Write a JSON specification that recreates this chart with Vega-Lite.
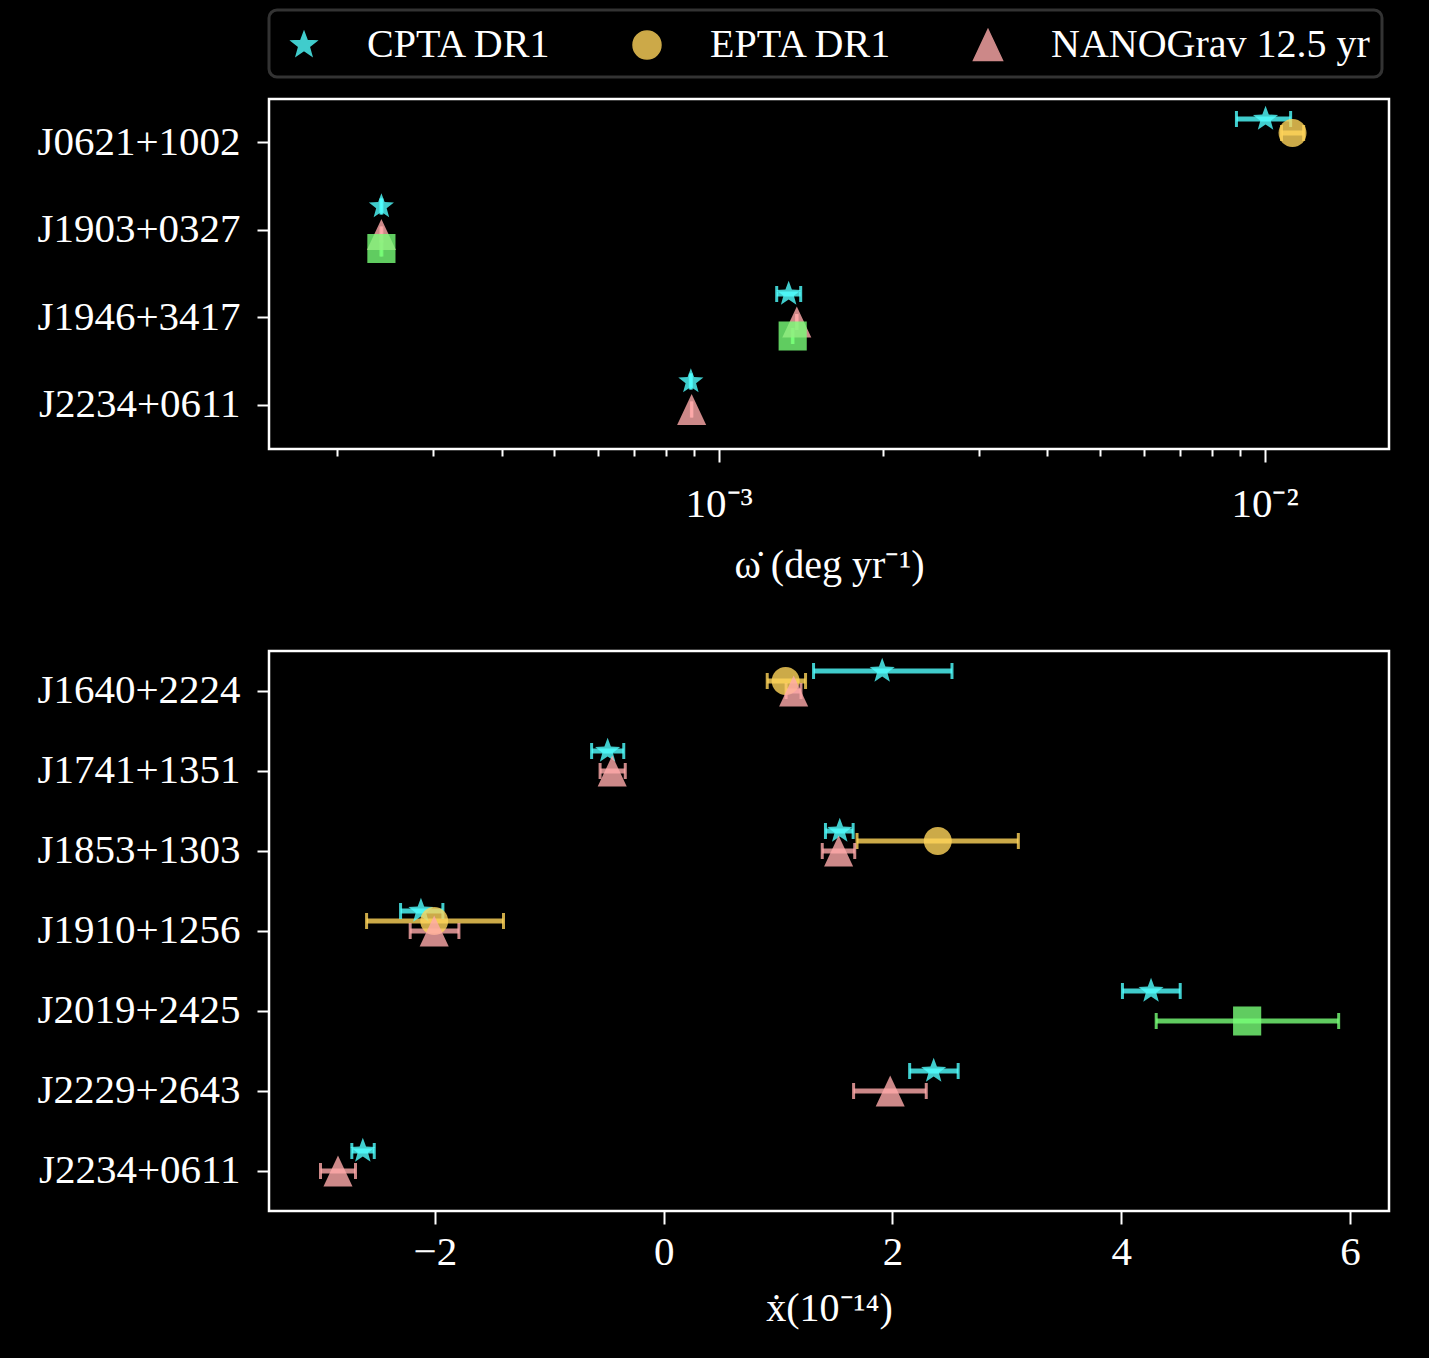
{
  "$schema": "https://vega.github.io/schema/vega-lite/v6.json",
  "background": "black",
  "padding": {"left": 35, "top": 8, "right": 40, "bottom": 28},
  "datasets": {
    "omdot": [
      {"pulsar": "J0621+1002", "dataset": "CPTA DR1", "value": 0.01004, "lo": 0.00888, "hi": 0.01116},
      {"pulsar": "J0621+1002", "dataset": "EPTA DR1", "value": 0.01125, "lo": 0.01074, "hi": 0.01179},
      {"pulsar": "J1903+0327", "dataset": "CPTA DR1", "value": 0.000241, "lo": 0.0002405, "hi": 0.0002415},
      {"pulsar": "J1903+0327", "dataset": "NANOGrav 12.5 yr", "value": 0.000241, "lo": 0.0002405, "hi": 0.0002415},
      {"pulsar": "J1903+0327", "dataset": "PPTA", "value": 0.000241, "lo": 0.0002405, "hi": 0.0002415},
      {"pulsar": "J1946+3417", "dataset": "CPTA DR1", "value": 0.001343, "lo": 0.001277, "hi": 0.001413},
      {"pulsar": "J1946+3417", "dataset": "NANOGrav 12.5 yr", "value": 0.00139, "lo": 0.001388, "hi": 0.001392},
      {"pulsar": "J1946+3417", "dataset": "PPTA", "value": 0.001366, "lo": 0.001364, "hi": 0.001368},
      {"pulsar": "J2234+0611", "dataset": "CPTA DR1", "value": 0.000889, "lo": 0.000887, "hi": 0.000891},
      {"pulsar": "J2234+0611", "dataset": "NANOGrav 12.5 yr", "value": 0.000892, "lo": 0.000891, "hi": 0.000893}
    ],
    "xdot": [
      {"pulsar": "J1640+2224", "dataset": "CPTA DR1", "value": 1.91, "lo": 1.31, "hi": 2.52},
      {"pulsar": "J1640+2224", "dataset": "EPTA DR1", "value": 1.066, "lo": 0.905, "hi": 1.24},
      {"pulsar": "J1640+2224", "dataset": "NANOGrav 12.5 yr", "value": 1.136, "lo": 1.07, "hi": 1.2},
      {"pulsar": "J1741+1351", "dataset": "CPTA DR1", "value": -0.49, "lo": -0.63, "hi": -0.349},
      {"pulsar": "J1741+1351", "dataset": "NANOGrav 12.5 yr", "value": -0.45, "lo": -0.556, "hi": -0.336},
      {"pulsar": "J1853+1303", "dataset": "CPTA DR1", "value": 1.539, "lo": 1.414, "hi": 1.656},
      {"pulsar": "J1853+1303", "dataset": "EPTA DR1", "value": 2.396, "lo": 1.69, "hi": 3.1},
      {"pulsar": "J1853+1303", "dataset": "NANOGrav 12.5 yr", "value": 1.529, "lo": 1.386, "hi": 1.67},
      {"pulsar": "J1910+1256", "dataset": "CPTA DR1", "value": -2.122, "lo": -2.3, "hi": -1.93},
      {"pulsar": "J1910+1256", "dataset": "EPTA DR1", "value": -2.006, "lo": -2.597, "hi": -1.4},
      {"pulsar": "J1910+1256", "dataset": "NANOGrav 12.5 yr", "value": -2.006, "lo": -2.216, "hi": -1.79},
      {"pulsar": "J2019+2425", "dataset": "CPTA DR1", "value": 4.26, "lo": 4.01, "hi": 4.515},
      {"pulsar": "J2019+2425", "dataset": "PPTA", "value": 5.1, "lo": 4.305, "hi": 5.9},
      {"pulsar": "J2229+2643", "dataset": "CPTA DR1", "value": 2.36, "lo": 2.15, "hi": 2.574},
      {"pulsar": "J2229+2643", "dataset": "NANOGrav 12.5 yr", "value": 1.98, "lo": 1.66, "hi": 2.295},
      {"pulsar": "J2234+0611", "dataset": "CPTA DR1", "value": -2.63, "lo": -2.726, "hi": -2.53},
      {"pulsar": "J2234+0611", "dataset": "NANOGrav 12.5 yr", "value": -2.847, "lo": -3.0, "hi": -2.694}
    ]
  },
  "vconcat": [
    {
      "width": 1120,
      "height": 350,
      "data": {"name": "omdot"},
      "encoding": {
        "y": {"field": "pulsar", "type": "nominal", "sort": ["J0621+1002", "J1903+0327", "J1946+3417", "J2234+0611"], "scale": {"paddingInner": 0, "paddingOuter": 0}, "axis": {"title": null, "labelPadding": 17}},
        "yOffset": {"field": "dataset", "type": "nominal", "scale": {"type": "point", "domain": ["CPTA DR1", "EPTA DR1", "NANOGrav 12.5 yr", "PPTA"], "range": [20, 62], "padding": 0}}
      },
      "layer": [
        {
          "mark": {"type": "rule", "strokeWidth": 5, "opacity": 0.8},
          "encoding": {
            "x": {"field": "lo", "type": "quantitative", "title": "ω̇ (deg yr⁻¹)", "scale": {"type": "log", "domain": [0.00015, 0.0169], "nice": false},
              "axis": {"values": [0.0002, 0.0003, 0.0004, 0.0005, 0.0006, 0.0007, 0.0008, 0.0009, 0.001, 0.002, 0.003, 0.004, 0.005, 0.006, 0.007, 0.008, 0.009, 0.01],
                "labelExpr": "datum.value == 0.001 ? '10⁻³' : (datum.value == 0.01 ? '10⁻²' : '')",
                "labelOverlap": false, "labelFlush": false,
                "tickSize": {"condition": {"test": "datum.value == 0.001 || datum.value == 0.01", "value": 13}, "value": 7},
                "labelPadding": 22, "titlePadding": 21}},
            "x2": {"field": "hi"},
            "color": {"field": "dataset", "type": "nominal", "scale": {"domain": ["CPTA DR1", "EPTA DR1", "NANOGrav 12.5 yr", "PPTA"], "range": ["#50FFFF", "#FFD45A", "#FFAAAA", "#78FF78"]}}
          }
        },
        {
          "mark": {"type": "tick", "thickness": 3, "size": 16, "opacity": 0.8},
          "encoding": {
            "x": {"field": "lo", "type": "quantitative", "title": "ω̇ (deg yr⁻¹)"},
            "color": {"field": "dataset", "type": "nominal"}
          }
        },
        {
          "mark": {"type": "tick", "thickness": 3, "size": 16, "opacity": 0.8},
          "encoding": {
            "x": {"field": "hi", "type": "quantitative", "title": "ω̇ (deg yr⁻¹)"},
            "color": {"field": "dataset", "type": "nominal"}
          }
        },
        {
          "mark": {"type": "point", "filled": true, "opacity": 0.8, "size": 1936},
          "encoding": {
            "x": {"field": "value", "type": "quantitative", "title": "ω̇ (deg yr⁻¹)"},
            "shape": {"field": "dataset", "type": "nominal",
              "scale": {"domain": ["CPTA DR1", "EPTA DR1", "NANOGrav 12.5 yr", "PPTA"], "range": [
              "M0,-0.6L0.147,-0.202L0.571,-0.185L0.238,0.077L0.353,0.485L0,0.25L-0.353,0.485L-0.238,0.077L-0.571,-0.185L-0.147,-0.202Z",
              "M0.636,0A0.636,0.636,0,1,1,-0.636,0A0.636,0.636,0,1,1,0.636,0Z",
              "M0,-0.7L0.66,0.7L-0.66,0.7Z",
              "M-0.64,-0.66L0.64,-0.66L0.64,0.66L-0.64,0.66Z"]},
              "legend": {"values": ["CPTA DR1", "EPTA DR1", "NANOGrav 12.5 yr"], "title": null, "orient": "top", "direction": "horizontal"}},
            "color": {"field": "dataset", "type": "nominal",
              "legend": {"values": ["CPTA DR1", "EPTA DR1", "NANOGrav 12.5 yr"], "title": null, "orient": "top", "direction": "horizontal"}}
          }
        }
      ]
    },
    {
      "width": 1120,
      "height": 560,
      "data": {"name": "xdot"},
      "encoding": {
        "y": {"field": "pulsar", "type": "nominal", "sort": ["J1640+2224", "J1741+1351", "J1853+1303", "J1910+1256", "J2019+2425", "J2229+2643", "J2234+0611"], "scale": {"paddingInner": 0, "paddingOuter": 0}, "axis": {"title": null, "labelPadding": 17}},
        "yOffset": {"field": "dataset", "type": "nominal", "scale": {"type": "point", "domain": ["CPTA DR1", "EPTA DR1", "NANOGrav 12.5 yr", "PPTA"], "range": [20, 50], "padding": 0}},
        "color": {"field": "dataset", "type": "nominal"}
      },
      "layer": [
        {
          "mark": {"type": "rule", "strokeWidth": 5, "opacity": 0.8},
          "encoding": {
            "x": {"field": "lo", "type": "quantitative", "title": "ẋ(10⁻¹⁴)", "scale": {"domain": [-3.45, 6.34], "nice": false, "zero": false},
              "axis": {"values": [-2, 0, 2, 4, 6], "format": "d", "tickSize": 13, "labelPadding": 8, "titlePadding": 16, "labelFlush": false}},
            "x2": {"field": "hi"}
          }
        },
        {
          "mark": {"type": "tick", "thickness": 3, "size": 16, "opacity": 0.8},
          "encoding": {"x": {"field": "lo", "type": "quantitative", "title": "ẋ(10⁻¹⁴)"}}
        },
        {
          "mark": {"type": "tick", "thickness": 3, "size": 16, "opacity": 0.8},
          "encoding": {"x": {"field": "hi", "type": "quantitative", "title": "ẋ(10⁻¹⁴)"}}
        },
        {
          "mark": {"type": "point", "filled": true, "opacity": 0.8, "size": 1936},
          "encoding": {
            "x": {"field": "value", "type": "quantitative", "title": "ẋ(10⁻¹⁴)"},
            "shape": {"field": "dataset", "type": "nominal"}
          }
        }
      ]
    }
  ],
  "spacing": 62,
  "resolve": {"scale": {"yOffset": "independent"}},
  "config": {
    "view": {"stroke": "white", "strokeWidth": 2.5},
    "axis": {"domain": false, "grid": false, "labelColor": "white", "labelFont": "Liberation Serif", "labelFontSize": 41, "labelLimit": 400,
      "tickColor": "white", "tickWidth": 2, "tickSize": 12, "labelPadding": 5,
      "titleColor": "white", "titleFont": "Liberation Serif", "titleFontSize": 40, "titleFontWeight": "normal"},
    "legend": {"labelColor": "white", "labelFont": "Liberation Serif", "labelFontSize": 40, "labelLimit": 600, "symbolSize": 1936, "labelOffset": 40,
      "columnPadding": 72, "padding": 12, "offset": 20, "cornerRadius": 8, "strokeColor": "#333333", "fillColor": "black", "strokeWidth": 3}
  }
}
